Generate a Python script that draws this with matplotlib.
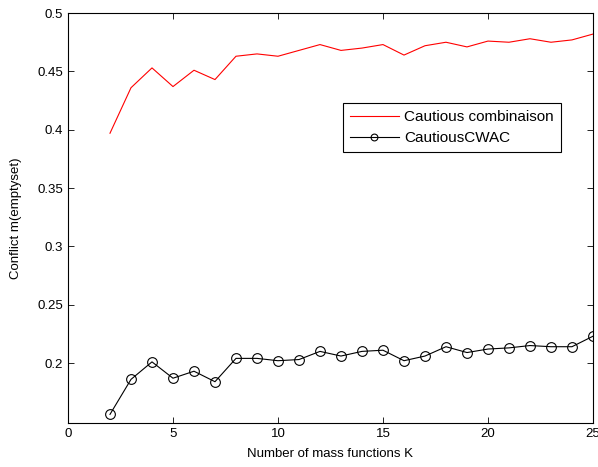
import matplotlib
matplotlib.use("Agg")
from matplotlib import pyplot as plt
import numpy as np

plt.rcParams['font.family'] = ['Liberation Sans', 'DejaVu Sans']

K = np.arange(2, 26)
cautious = [0.397, 0.436, 0.453, 0.437, 0.451, 0.443, 0.463, 0.465, 0.463, 0.468,
            0.473, 0.468, 0.470, 0.473, 0.464, 0.472, 0.475, 0.471, 0.476, 0.475,
            0.478, 0.475, 0.477, 0.482]
cwac = [0.156, 0.186, 0.201, 0.187, 0.193, 0.184, 0.204, 0.204, 0.202, 0.203,
        0.210, 0.206, 0.210, 0.211, 0.202, 0.206, 0.214, 0.209, 0.212, 0.213,
        0.215, 0.214, 0.214, 0.223]
xticks = [0, 5, 10, 15, 20, 25]
yticks = [0.2, 0.25, 0.3, 0.35, 0.4, 0.45, 0.5]

fig = plt.figure(figsize=(5.98, 4.67), dpi=100)
ax = fig.add_axes([0.1137, 0.0942, 0.8779, 0.8778])
ax.plot(K, cautious, color='red', lw=0.8, label='Cautious combinaison')
ax.plot(K, cwac, color='black', lw=0.8, marker='o', ms=7, mfc='none', mec='black',
        mew=0.8, label='CautiousCWAC')
ax.set_xlim(0, 25)
ax.set_ylim(0.1486, 0.5)
ax.set_xticks(xticks)
ax.set_yticks(yticks)
ax.set_yticklabels(['0.2', '0.25', '0.3', '0.35', '0.4', '0.45', '0.5'])
ax.tick_params(direction='in', top=True, right=True, labelsize=9.5, length=4, width=0.6)
for s in ax.spines.values():
    s.set_linewidth(0.8)
ax.set_xlabel('Number of mass functions K', fontsize=9.5, labelpad=6)
ax.set_ylabel('Conflict m(emptyset)', fontsize=9.5, labelpad=11)
leg = ax.legend(loc='upper left', bbox_to_anchor=(0.524, 0.78), fontsize=11,
                fancybox=False, framealpha=1, edgecolor='black', borderpad=0.45,
                handlelength=3.2, handletextpad=0.35, labelspacing=0.45,
                borderaxespad=0, markerscale=0.7)
leg.get_frame().set_linewidth(0.8)
fig.savefig('out.png', dpi=100)
